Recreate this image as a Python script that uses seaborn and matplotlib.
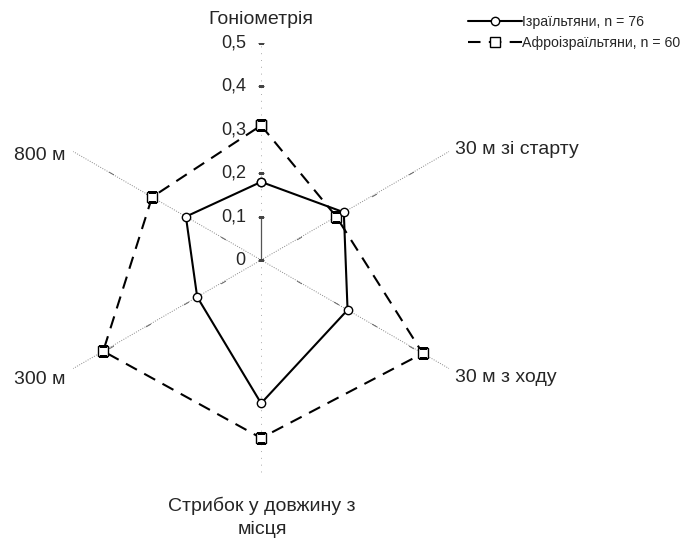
import numpy as np
import pandas as pd
import matplotlib
matplotlib.use("Agg")
import matplotlib.pyplot as plt
import seaborn as sns

sns.set_style("white")
plt.rcParams['font.family'] = ['Liberation Sans', 'DejaVu Sans']

categories = ["Гоніометрія", "30 м зі старту", "30 м з ходу",
              "Стрибок у довжину з\nмісця", "300 м", "800 м"]
israeli = [0.18, 0.22, 0.23, 0.33, 0.17, 0.20]
afro = [0.31, 0.20, 0.43, 0.41, 0.42, 0.29]
series_names = ["Ізраїльтяни, n = 76", "Афроізраїльтяни, n = 60"]
r_ticks = [0, 0.1, 0.2, 0.3, 0.4, 0.5]
r_tick_labels = ["0", "0,1", "0,2", "0,3", "0,4", "0,5"]

n = len(categories)
angles = np.arange(n) * 2 * np.pi / n

fig = plt.figure(figsize=(6.86, 5.44), dpi=100)
ax = fig.add_axes([0.0641, 0.123, 0.633, 0.798], projection="polar")
ax.set_theta_zero_location("N")
ax.set_theta_direction(-1)
ax.grid(False)
ax.spines["polar"].set_visible(False)
ax.patch.set_alpha(0)

# axis spokes
for i, a in enumerate(angles):
    if i == 0:
        ax.plot([a, a], [0, 0.1], color="#555555", lw=0.9, zorder=1)
        ax.plot([a, a], [0.1, 0.5], color="#aaaaaa", lw=0.7, ls=(0, (1, 6)), zorder=1)
        ax.plot([np.pi, np.pi], [0, 0.5], color="#aaaaaa", lw=0.7, ls=(0, (1, 6)), zorder=1)
    else:
        if i == 3:
            continue
        ax.plot([a, a], [0, 0.5], color="#888888", lw=0.7, ls=(0, (1, 1.5)), zorder=1)
        ax.plot([a] * 4, r_ticks[1:5], ls="none", marker=(2, 0, -np.degrees(a)),
                color="#666666", ms=4, mew=0.7, zorder=1)

# radial tick labels along the top axis
for rv, lab in zip(r_ticks, r_tick_labels):
    ax.plot([0], [rv], ls="none", marker="_", color="#444444", ms=4, mew=0.8)
    ax.annotate(lab, xy=(0, rv), xytext=(-11, 0), textcoords="offset points",
                ha="right", va="center", fontsize=13)

def closed(vals):
    return pd.DataFrame({"theta": list(angles) + [2 * np.pi],
                         "r": list(vals) + [vals[0]]})

sns.lineplot(data=closed(israeli), x="theta", y="r", sort=False, estimator=None,
             ax=ax, color="black", lw=1.5, marker="o", markersize=6,
             markerfacecolor="white", markeredgecolor="black", markeredgewidth=1,
             label=series_names[0], zorder=4)
sns.lineplot(data=closed(afro), x="theta", y="r", sort=False, estimator=None,
             ax=ax, color="black", lw=1.5, dashes=(6, 4), marker="s", markersize=7,
             markerfacecolor="white", markeredgecolor="black", markeredgewidth=1,
             label=series_names[1], zorder=3)
ax.set_xlabel("")
ax.set_ylabel("")
ax.set_ylim(0, 0.5)
ax.set_xticks([])
ax.set_yticks([])

# category labels
label_pos = [
    (261, 20, "center"),
    (455, 150, "left"),
    (455, 378, "left"),
    (262, 506, "center"),
    (65, 380, "right"),
    (65, 155, "right"),
]
for (px, py, ha), txt in zip(label_pos, categories):
    for k, line in enumerate(txt.split("\n")):
        fig.text(px / 686, 1 - (py + 23 * k) / 544, line, ha=ha, va="center",
                 fontsize=14)

leg = ax.legend(loc="upper left", bbox_to_anchor=(462 / 686, 1 - 9 / 544),
                bbox_transform=fig.transFigure, frameon=False, fontsize=10.2,
                handlelength=3.8, handletextpad=0.05, labelspacing=0.55,
                borderaxespad=0)

fig.savefig("out.png", dpi=100)
